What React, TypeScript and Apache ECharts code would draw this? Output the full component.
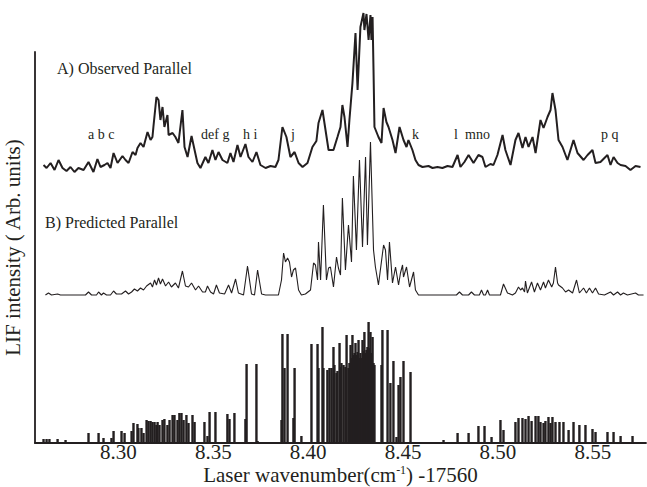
import React, { useEffect, useRef } from "react";
import * as echarts from "echarts";

// x-axis tick labels (wavenumber offset, cm^-1)
const TICKS = [8.3, 8.35, 8.4, 8.45, 8.5, 8.55];

// A) Observed parallel spectrum: [wavenumber, intensity]
const OBSERVED: [number, number][] = [
  [8.2605, 8], [8.2621, 5], [8.2642, 10], [8.2663, 3], [8.2684, 13], [8.2705, 5], [8.2726, 2], [8.2747, 6],
  [8.2768, 1], [8.2789, 5], [8.2816, 3], [8.2842, 11], [8.2868, 1], [8.2889, 14], [8.2905, 6], [8.2926, 8],
  [8.2942, 10], [8.2958, 5], [8.2974, 20], [8.2995, 10], [8.3021, 17], [8.3037, 13], [8.3053, 10], [8.3074, 21],
  [8.309, 18], [8.31, 25], [8.3116, 30], [8.3132, 26], [8.3153, 41], [8.3169, 33], [8.3179, 36], [8.3184, 46],
  [8.32, 76], [8.3211, 73], [8.3221, 53], [8.3232, 66], [8.3242, 46], [8.3258, 58], [8.3264, 38], [8.3285, 40],
  [8.33, 36], [8.3316, 30], [8.3337, 63], [8.3348, 26], [8.3364, 16], [8.3385, 37], [8.3401, 23], [8.3416, 10],
  [8.3432, 5], [8.3458, 16], [8.3474, 10], [8.3495, 23], [8.3511, 13], [8.3527, 21], [8.3548, 13], [8.3574, 10],
  [8.359, 20], [8.3606, 11], [8.3627, 28], [8.3643, 16], [8.3669, 29], [8.3685, 16], [8.3706, 11], [8.3727, 21],
  [8.3748, 8], [8.3775, 5], [8.3801, 7], [8.3827, 6], [8.3843, 13], [8.3864, 46], [8.3885, 36], [8.3906, 16],
  [8.3928, 21], [8.3949, 10], [8.397, 6], [8.3996, 10], [8.4022, 26], [8.4043, 32], [8.4054, 50], [8.4075, 63],
  [8.4091, 43], [8.4107, 23], [8.4133, 23], [8.4154, 36], [8.417, 46], [8.418, 68], [8.4191, 56], [8.4207, 26],
  [8.4217, 53], [8.4233, 90], [8.4249, 140], [8.426, 83], [8.4275, 146], [8.4291, 160], [8.4296, 143], [8.4307, 159],
  [8.4318, 133], [8.4328, 158], [8.4333, 133], [8.4339, 156], [8.4344, 103], [8.4349, 46], [8.437, 36], [8.4386, 30],
  [8.4397, 65], [8.4412, 51], [8.4423, 46], [8.4444, 33], [8.446, 20], [8.4481, 46], [8.4502, 33], [8.4518, 26],
  [8.4528, 33], [8.4549, 23], [8.4565, 13], [8.4581, 8], [8.4602, 6], [8.4634, 7], [8.4655, 5], [8.4681, 6],
  [8.4707, 5], [8.4734, 7], [8.476, 6], [8.4787, 18], [8.4802, 6], [8.4823, 11], [8.4845, 18], [8.4871, 10],
  [8.4897, 18], [8.4918, 16], [8.4934, 6], [8.496, 9], [8.4976, 8], [8.4997, 18], [8.5024, 38], [8.5039, 23],
  [8.5066, 8], [8.5092, 33], [8.5108, 40], [8.5129, 25], [8.5145, 36], [8.5161, 26], [8.5182, 36], [8.5198, 20],
  [8.5224, 53], [8.524, 45], [8.5261, 56], [8.5277, 63], [8.5287, 80], [8.5303, 63], [8.5319, 33], [8.534, 26],
  [8.5366, 13], [8.5398, 33], [8.5419, 20], [8.5451, 13], [8.5472, 18], [8.5498, 23], [8.5514, 10], [8.554, 11],
  [8.5561, 15], [8.5577, 18], [8.5593, 8], [8.5609, 16], [8.563, 10], [8.5646, 8], [8.5672, 7], [8.5698, 3],
  [8.5725, 7], [8.5751, 6],
];

// B) Predicted parallel spectrum: [wavenumber, intensity]
const PREDICTED: [number, number][] = [
  [8.2615, 0], [8.2631, 2], [8.2647, 0], [8.2679, 1], [8.2694, 0], [8.2826, 0], [8.2842, 3], [8.2858, 0],
  [8.2884, 0], [8.2895, 3], [8.291, 0], [8.2921, 2], [8.2937, 0], [8.2958, 0], [8.2974, 4], [8.2989, 1],
  [8.3016, 1], [8.3037, 4], [8.3053, 1], [8.3069, 3], [8.3084, 6], [8.31, 4], [8.3116, 7], [8.3132, 5],
  [8.3148, 9], [8.3169, 12], [8.3179, 8], [8.319, 15], [8.32, 10], [8.3211, 17], [8.3221, 11], [8.3232, 16],
  [8.3248, 9], [8.3264, 13], [8.3279, 8], [8.33, 12], [8.3316, 7], [8.3337, 24], [8.3353, 9], [8.3369, 8],
  [8.3385, 12], [8.3406, 5], [8.3422, 9], [8.3443, 3], [8.3458, 3], [8.3469, 9], [8.3485, 3], [8.3501, 1],
  [8.3516, 10], [8.3532, 2], [8.3559, 1], [8.358, 10], [8.3596, 2], [8.3617, 16], [8.3632, 2], [8.3659, 0],
  [8.368, 29], [8.3701, 1], [8.3717, 0], [8.3733, 25], [8.3754, 1], [8.3775, 0], [8.3843, 0], [8.3859, 15],
  [8.387, 42], [8.388, 33], [8.3891, 37], [8.3901, 33], [8.3912, 18], [8.3922, 25], [8.3933, 27], [8.3949, 5],
  [8.3964, 0], [8.3985, 1], [8.4012, 5], [8.4028, 32], [8.4038, 30], [8.4049, 15], [8.4054, 53], [8.4065, 15],
  [8.408, 90], [8.4096, 15], [8.4107, 27], [8.4117, 28], [8.4133, 8], [8.4149, 38], [8.4159, 27], [8.417, 20],
  [8.418, 97], [8.4196, 25], [8.4212, 70], [8.4228, 33], [8.4238, 119], [8.4254, 45], [8.427, 135], [8.4286, 48],
  [8.4302, 138], [8.4312, 50], [8.4328, 153], [8.4344, 45], [8.4354, 28], [8.437, 10], [8.4397, 50], [8.4407, 45],
  [8.4418, 15], [8.4428, 53], [8.4444, 12], [8.446, 28], [8.4476, 10], [8.4486, 22], [8.4497, 30], [8.4502, 18],
  [8.4518, 28], [8.4534, 8], [8.4555, 23], [8.4565, 5], [8.4581, 0], [8.4781, 0], [8.4797, 3], [8.4813, 0],
  [8.4845, 0], [8.486, 3], [8.4876, 0], [8.4902, 0], [8.4913, 5], [8.4924, 0], [8.4934, 0], [8.4945, 5],
  [8.4955, 0], [8.5013, 0], [8.5029, 11], [8.505, 2], [8.5076, 0], [8.5092, 2], [8.5108, 8], [8.5119, 5],
  [8.5129, 7], [8.514, 3], [8.5145, 14], [8.5155, 2], [8.5177, 13], [8.5192, 3], [8.5208, 12], [8.5224, 5],
  [8.524, 13], [8.525, 7], [8.5266, 15], [8.5283, 8], [8.5292, 12], [8.5303, 28], [8.5314, 12], [8.5319, 10],
  [8.534, 7], [8.5356, 3], [8.5372, 5], [8.5393, 2], [8.5414, 15], [8.5429, 2], [8.5451, 7], [8.5466, 2],
  [8.5482, 7], [8.5498, 2], [8.5514, 7], [8.553, 1], [8.5561, 0], [8.5593, 3], [8.5609, 0], [8.563, 3],
  [8.5646, 0], [8.5661, 2], [8.5682, 0], [8.5725, 2], [8.574, 0], [8.5767, 0],
];

// C) Stick spectrum (line positions and relative intensities): [wavenumber, intensity]
const STICKS: [number, number][] = [
  [8.2605, 4], [8.2621, 4], [8.2636, 4], [8.2679, 4], [8.2721, 3], [8.2842, 10], [8.2895, 10], [8.2921, 5],
  [8.2963, 5], [8.2974, 12], [8.3016, 12], [8.3032, 10], [8.3069, 12], [8.3079, 20], [8.31, 19], [8.3105, 15],
  [8.3121, 15], [8.3132, 10], [8.3148, 23], [8.3158, 22], [8.3169, 22], [8.3179, 21], [8.319, 21], [8.32, 18],
  [8.3206, 21], [8.3216, 18], [8.3232, 23], [8.3242, 24], [8.3258, 18], [8.3269, 23], [8.3285, 28], [8.3295, 28],
  [8.3311, 23], [8.3321, 30], [8.3332, 30], [8.3343, 23], [8.3358, 28], [8.3369, 20], [8.339, 28], [8.3401, 21],
  [8.3453, 21], [8.3469, 7], [8.348, 31], [8.3511, 31], [8.3574, 29], [8.3585, 24], [8.3611, 30], [8.3669, 24],
  [8.3675, 79], [8.3727, 79], [8.3733, 2], [8.3859, 23], [8.3864, 109], [8.3875, 75], [8.3891, 109], [8.3922, 25],
  [8.3928, 75], [8.3964, 7], [8.4017, 99], [8.4049, 99], [8.4054, 75], [8.4075, 116], [8.408, 75], [8.4101, 73],
  [8.4112, 75], [8.4123, 75], [8.4133, 96], [8.4138, 78], [8.4149, 70], [8.4154, 72], [8.4165, 100], [8.417, 76],
  [8.4175, 80], [8.4186, 78], [8.4196, 76], [8.4202, 108], [8.4212, 75], [8.4217, 80], [8.4223, 98], [8.4228, 85],
  [8.4233, 108], [8.4238, 88], [8.4244, 90], [8.4249, 100], [8.4254, 88], [8.426, 91], [8.4265, 103], [8.427, 85],
  [8.4275, 90], [8.4281, 85], [8.4286, 103], [8.4291, 92], [8.4296, 111], [8.4302, 90], [8.4307, 93], [8.4312, 96],
  [8.4318, 121], [8.4323, 95], [8.4328, 111], [8.4333, 90], [8.4339, 106], [8.4344, 80], [8.4349, 78], [8.4386, 78],
  [8.4391, 113], [8.4418, 113], [8.4433, 60], [8.4449, 82], [8.4465, 6], [8.4476, 58], [8.4486, 66], [8.4502, 82],
  [8.4539, 71], [8.4713, 3], [8.4787, 10], [8.4845, 10], [8.4897, 17], [8.4929, 17], [8.4966, 6], [8.5013, 23],
  [8.5029, 13], [8.5092, 21], [8.5108, 25], [8.5129, 25], [8.5145, 24], [8.5161, 27], [8.5177, 22], [8.5198, 27],
  [8.5213, 27], [8.5224, 21], [8.524, 20], [8.525, 22], [8.5266, 26], [8.5277, 20], [8.5287, 26], [8.5303, 21],
  [8.5324, 21], [8.5345, 21], [8.5372, 13], [8.5398, 21], [8.5429, 18], [8.5461, 18], [8.5498, 14], [8.5514, 11],
  [8.5577, 11], [8.5609, 11], [8.5646, 7], [8.5709, 7],
];

// vertical offsets that stack the three traces in one plot
const OBS_OFFSET = 270;
const PRED_OFFSET = 148;

// peak assignment letters above the observed trace
const PEAK_LETTERS: { text: string; x: number }[] = [
  { text: "a b c", x: 88 },
  { text: "def g", x: 201 },
  { text: "h i", x: 243 },
  { text: "j", x: 291 },
  { text: "k", x: 412 },
  { text: "l", x: 454 },
  { text: "mno", x: 465 },
  { text: "p q", x: 601 },
];

const SERIF = '"Liberation Serif", "Times New Roman", serif';
const INK = "#231f20";

function txt(text: string, x: number, y: number, size: number) {
  return {
    type: "text",
    x,
    y,
    silent: true,
    style: {
      text,
      fill: INK,
      fontFamily: SERIF,
      fontSize: size,
      align: "left",
      verticalAlign: "middle",
      textAlign: "left",
      textVerticalAlign: "middle",
    },
  };
}

export default function App() {
  const ref = useRef<HTMLDivElement>(null);
  useEffect(() => {
    if (!ref.current) return;
    const chart = echarts.init(ref.current, null, { renderer: "svg" });
    chart.setOption({
      animation: false,
      grid: { left: 35, right: 1, top: 52, bottom: 44, containLabel: false, outerBoundsMode: "none" },
      xAxis: {
        type: "value",
        min: 8.256,
        max: 8.578,
        axisLine: { show: true, onZero: false, lineStyle: { color: INK, width: 1.8 } },
        axisTick: { show: false },
        splitLine: { show: false },
        axisLabel: {
          customValues: TICKS,
          formatter: (v: number) => v.toFixed(2),
          fontFamily: SERIF,
          fontSize: 21,
          color: INK,
          margin: -2,
        },
        name: "Laser wavenumber(cm{sup|-1}) -17560",
        nameLocation: "middle",
        nameMoveOverlap: false,
        nameGap: 21,
        nameTextStyle: {
          fontFamily: SERIF,
          fontSize: 21,
          lineHeight: 21,
          color: INK,
          rich: {
            sup: { fontFamily: SERIF, fontSize: 12, lineHeight: 12, color: INK, verticalAlign: "top" },
          },
        },
      },
      yAxis: {
        type: "value",
        min: 0,
        max: 391,
        axisLine: { show: true, onZero: false, lineStyle: { color: INK, width: 1.8 } },
        axisTick: { show: false },
        axisLabel: { show: false },
        splitLine: { show: false },
        name: "LIF intensity ( Arb. units)",
        nameLocation: "middle",
        nameRotate: 90,
        nameGap: 12,
        nameTextStyle: { fontFamily: SERIF, fontSize: 21, color: INK },
      },
      graphic: [
        txt("A) Observed Parallel", 57, 68, 16),
        txt("B) Predicted Parallel", 45, 222, 16),
        ...PEAK_LETTERS.map((p) => txt(p.text, p.x, 134, 14)),
      ],
      series: [
        {
          type: "custom",
          data: STICKS,
          encode: { x: 0, y: 1 },
          renderItem: (_params: any, api: any) => {
            const x = api.value(0);
            const h = api.value(1);
            const p0 = api.coord([x, 0]);
            const p1 = api.coord([x, h]);
            return {
              type: "rect",
              shape: { x: p0[0] - 1.2, y: p1[1], width: 2.4, height: p0[1] - p1[1] },
              style: { fill: INK },
            };
          },
        },
        {
          type: "line",
          data: PREDICTED.map(([x, v]) => [x, v + PRED_OFFSET]),
          showSymbol: false,
          symbol: "none",
          clip: false,
          lineStyle: { color: INK, width: 1.1 },
        },
        {
          type: "line",
          data: OBSERVED.map(([x, v]) => [x, v + OBS_OFFSET]),
          showSymbol: false,
          symbol: "none",
          clip: false,
          lineStyle: { color: INK, width: 2 },
        },
      ],
    });
    return () => chart.dispose();
  }, []);
  return (
    <div
      ref={ref}
      style={{ position: "fixed", left: 0, top: 0, width: 647, height: 487, background: "#fff" }}
    />
  );
}
